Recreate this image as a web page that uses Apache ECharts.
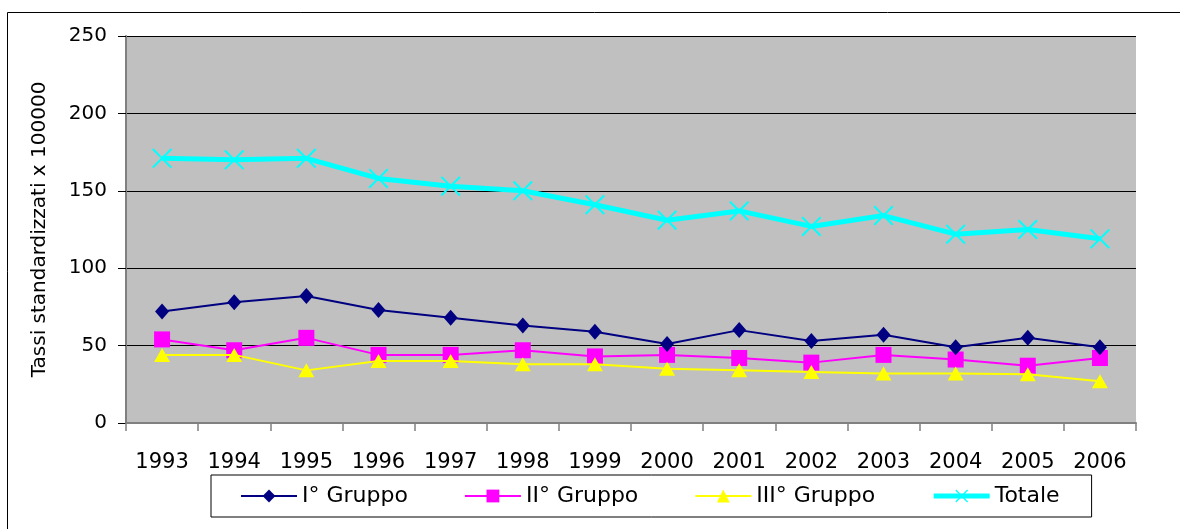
<!DOCTYPE html>
<html>
<head>
<meta charset="utf-8">
<script src="https://cdn.jsdelivr.net/npm/echarts@6/dist/echarts.min.js"></script>
<style>
html,body{margin:0;padding:0;background:#fff;}
#c{width:1180px;height:529px;}
</style>
</head>
<body>
<div id="c"></div>
<script>
const years = ['1993','1994','1995','1996','1997','1998','1999','2000','2001','2002','2003','2004','2005','2006'];
const gruppo1 = [72, 78, 82, 73, 68, 63, 59, 51, 60, 53, 57, 49, 55, 49];
const gruppo2 = [54, 47, 55, 44, 44, 47, 43, 44, 42, 39, 44, 41, 37, 42];
const gruppo3 = [44, 44, 34, 40, 40, 38, 38, 35, 34, 33, 32, 32, 31.5, 27];
const totale = [171, 170, 171, 158, 153, 150, 141, 131, 137, 127, 134, 122, 125, 119];
const seriesNames = ['I° Gruppo', 'II° Gruppo', 'III° Gruppo', 'Totale'];
const yTitle = 'Tassi standardizzati x 100000';

const FONT = 'DejaVu Sans';
const xPath = 'path://M0,0.07 L0.07,0 L0.5,0.43 L0.93,0 L1,0.07 L0.57,0.5 L1,0.93 L0.93,1 L0.5,0.57 L0.07,1 L0,0.93 L0.43,0.5 Z';

const chart = echarts.init(document.getElementById('c'), null, {renderer: 'canvas'});
chart.setOption({
  backgroundColor: '#ffffff',
  animation: false,
  graphic: [{
    type: 'rect',
    shape: {x: 7.5, y: 12.5, width: 1300, height: 700},
    style: {fill: 'none', stroke: '#000', lineWidth: 1},
    silent: true,
    z: -10
  }],
  grid: {left: 126, right: 44, top: 36, bottom: 106, show: true, backgroundColor: '#C0C0C0', borderWidth: 0},
  legend: {
    left: 211, top: 475,
    data: seriesNames,
    borderColor: '#000', borderWidth: 1,
    padding: [10, 32, 10, 29],
    itemGap: 56,
    itemWidth: 56, itemHeight: 16,
    lineStyle: {width: 'inherit'},
    textStyle: {fontFamily: FONT, fontSize: 22, color: '#000'}
  },
  xAxis: {
    type: 'category',
    data: years,
    boundaryGap: true,
    axisLine: {lineStyle: {color: '#808080', width: 2}},
    axisTick: {show: true, length: 8, lineStyle: {color: '#808080', width: 1.5}},
    axisLabel: {fontFamily: FONT, fontSize: 21, color: '#000', margin: 29, interval: 0},
    splitLine: {show: false}
  },
  yAxis: {
    type: 'value',
    min: 0, max: 250, interval: 50,
    name: yTitle,
    nameLocation: 'middle',
    nameGap: 76,
    nameTextStyle: {fontFamily: FONT, fontSize: 20, color: '#000'},
    axisLine: {show: true, lineStyle: {color: '#808080', width: 2}},
    axisTick: {show: true, length: 8, lineStyle: {color: '#000', width: 1}},
    axisLabel: {fontFamily: FONT, fontSize: 20, color: '#000', margin: 19},
    splitLine: {show: true, lineStyle: {color: '#000', width: 1}}
  },
  series: [
    {
      name: seriesNames[0], type: 'line', data: gruppo1,
      symbol: 'diamond', symbolSize: [14, 16],
      lineStyle: {color: '#000080', width: 2},
      itemStyle: {color: '#000080'},
      z: 3
    },
    {
      name: seriesNames[1], type: 'line', data: gruppo2,
      symbol: 'rect', symbolSize: 16,
      lineStyle: {color: '#FF00FF', width: 2},
      itemStyle: {color: '#FF00FF'},
      z: 2
    },
    {
      name: seriesNames[2], type: 'line', data: gruppo3,
      symbol: 'triangle', symbolSize: [16, 14],
      lineStyle: {color: '#FFFF00', width: 2},
      itemStyle: {color: '#FFFF00'},
      z: 4
    },
    {
      name: seriesNames[3], type: 'line', data: totale,
      symbol: xPath, symbolSize: 20,
      lineStyle: {color: '#00FFFF', width: 5},
      itemStyle: {color: '#00FFFF'},
      z: 5
    }
  ]
});
</script>
</body>
</html>
